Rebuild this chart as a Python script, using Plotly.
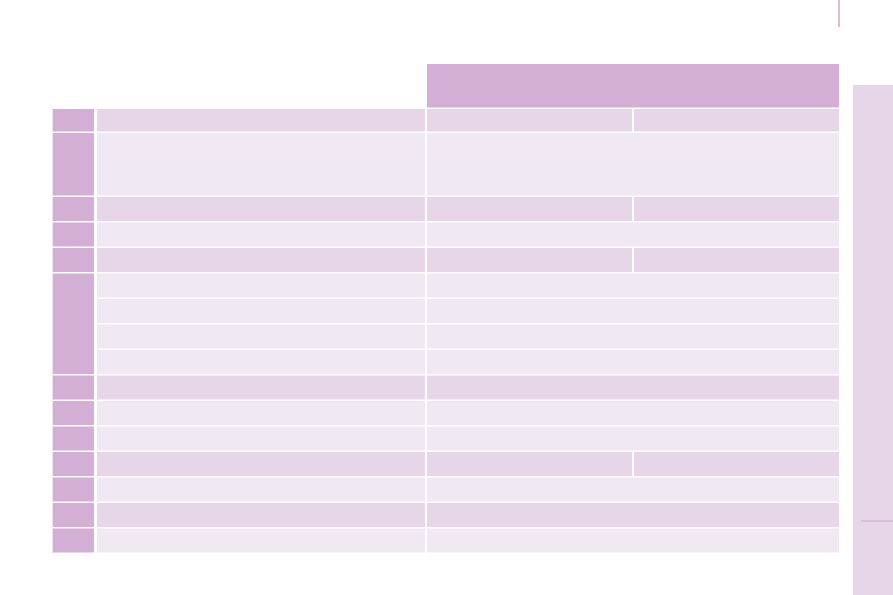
import plotly.graph_objects as go

# empty table layout: row heights, shading and merged cells
row_heights = [24, 64, 25.5, 25.5, 25.5, 25.5, 25.5, 25.5, 25.5, 25.5, 25.5, 25.5, 25.5, 25.5, 25.5, 25.5]
row_shade = ["dark", "light", "dark", "light", "dark", "light", "light", "light",
             "light", "dark", "light", "light", "dark", "light", "dark", "light"]
row_split = [True, False, True, False, True, False, False, False,
             False, False, False, False, True, False, False, False]
index_groups = [1, 1, 1, 1, 1, 4, 1, 1, 1, 1, 1, 1, 1]
col_widths = [44, 330, 207, 207]
header_height = 45

index_color = "#D3AED5"
dark_color = "#E7D6E8"
light_color = "#F0E8F2"
gap_x = 2
gap_y = 1.5

col_left = [0]
for w in col_widths[:-1]:
    col_left.append(col_left[-1] + w)

row_top = [0]
for h in row_heights[:-1]:
    row_top.append(row_top[-1] + h)

cells = {"index": [], "dark": [], "light": []}


def add_cell(kind, x0, w, y0, h):
    cells[kind].append((x0, w - gap_x, y0 + (h - gap_y) / 2, h - gap_y))


# header over the two value columns
add_cell("index", col_left[2], col_widths[2] + col_widths[3], -header_height, header_height)

# index column (merged groups)
r = 0
for g in index_groups:
    h = sum(row_heights[r:r + g])
    cells["index"].append((col_left[0], col_widths[0] - 3, row_top[r] + (h - gap_y) / 2, h - gap_y))
    r += g

# label and value columns
for i, h in enumerate(row_heights):
    kind = row_shade[i]
    add_cell(kind, col_left[1], col_widths[1], row_top[i], h)
    if row_split[i]:
        add_cell(kind, col_left[2], col_widths[2], row_top[i], h)
        add_cell(kind, col_left[3], col_widths[3], row_top[i], h)
    else:
        add_cell(kind, col_left[2], col_widths[2] + col_widths[3], row_top[i], h)

fig = go.Figure()
colors = {"index": index_color, "dark": dark_color, "light": light_color}
for kind, lst in cells.items():
    fig.add_trace(go.Bar(
        orientation="h",
        base=[c[0] for c in lst],
        x=[c[1] for c in lst],
        y=[c[2] for c in lst],
        width=[c[3] for c in lst],
        marker_color=colors[kind],
        marker_line_width=0,
        hoverinfo="skip",
    ))

fig.update_layout(
    width=893,
    height=595,
    margin=dict(l=0, r=0, t=0, b=0),
    barmode="overlay",
    showlegend=False,
    plot_bgcolor="white",
    paper_bgcolor="white",
    xaxis=dict(range=[-53, 840], visible=False, fixedrange=True),
    yaxis=dict(range=[486, -109], visible=False, fixedrange=True),
    shapes=[
        # right side tab
        dict(type="rect", xref="paper", yref="paper", x0=853 / 893, x1=1, y0=0, y1=1 - 85 / 595,
             fillcolor=dark_color, line_width=0, layer="below"),
        dict(type="rect", xref="paper", yref="paper", x0=861 / 893, x1=1, y0=1 - 522 / 595, y1=1 - 520 / 595,
             fillcolor="#D9BFDB", line_width=0),
        # small mark at top
        dict(type="rect", xref="paper", yref="paper", x0=838 / 893, x1=840 / 893, y0=1 - 27 / 595, y1=1,
             fillcolor="#DBBCDD", line_width=0),
        # faint left edge of table
        dict(type="rect", xref="paper", yref="paper", x0=52 / 893, x1=53 / 893, y0=1 - 554 / 595, y1=1 - 107 / 595,
             fillcolor="#EEE4EF", line_width=0),
    ],
)

fig.write_html("out.html", config={"displayModeBar": False},
               post_script="document.body.style.margin='0';")
